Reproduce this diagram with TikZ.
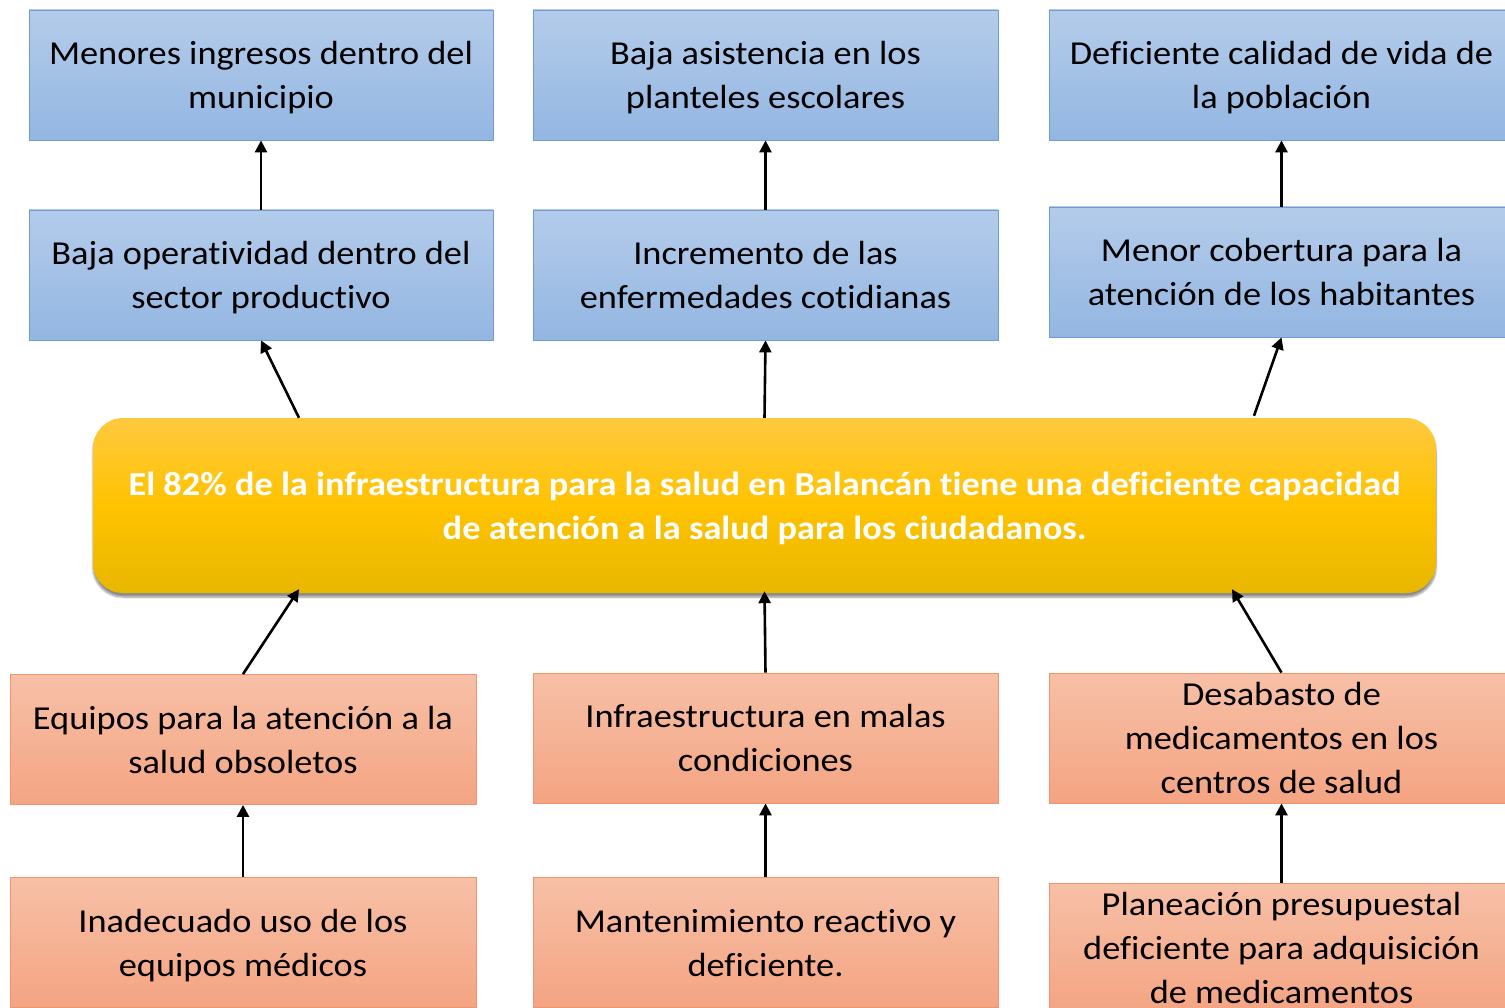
\documentclass[tikz,border=0pt]{standalone}
\usepackage{fontspec}
\setmainfont{Carlito}[FakeStretch=1.085, Ligatures=NoCommon]
\usetikzlibrary{arrows.meta,shadows.blur,calc}
\definecolor{bluetop}{HTML}{B4CCEA}
\definecolor{bluebot}{HTML}{93B6E2}
\definecolor{blueline}{HTML}{6E9BD2}
\definecolor{saltop}{HTML}{F7C0A7}
\definecolor{salbot}{HTML}{F4A482}
\definecolor{salline}{HTML}{EE9570}
\definecolor{yeltop}{HTML}{FFC93F}
\definecolor{yelmid}{HTML}{FFC300}
\definecolor{yelbot}{HTML}{E8B700}
\tikzset{
  effbox/.style={draw=blueline, line width=0.8pt, top color=bluetop, bottom color=bluebot,
    minimum width=464pt, minimum height=130pt, align=center, inner sep=0pt,
    font=\fontsize{33.5}{44}\selectfont, text depth=0pt},
  causebox/.style={draw=salline, line width=0.8pt, top color=saltop, bottom color=salbot,
    minimum width=466pt, minimum height=130pt, align=center, inner sep=0pt,
    font=\fontsize{33.5}{44}\selectfont, text depth=0pt},
  corebox/.style={rounded corners=30pt, top color=yeltop, bottom color=yelbot, middle color=yelmid,
    minimum width=1343pt, minimum height=175pt, align=center, inner sep=0pt, text=white,
    font=\fontsize{33.5}{44}\selectfont\bfseries, text depth=0pt,
    blur shadow={shadow xshift=0pt, shadow yshift=-4pt, shadow blur steps=8, shadow blur extra rounding=4pt, shadow opacity=45}},
  arr/.style={line width=2.6pt, -{Triangle[length=12pt, width=12pt]}}
}
\begin{document}
\begin{tikzpicture}[x=1pt,y=-1pt]
\useasboundingbox (0,0) rectangle (1505,1008);
\begin{scope}
\clip (0,0) rectangle (1505,1008);
% effects top
\node[effbox] (b1) at (261,75) {Menores ingresos dentro del\\municipio};
\node[effbox, minimum width=465pt] (b2) at (765.5,75) {Baja asistencia en los\\planteles escolares};
\node[effbox, minimum width=465pt] (b3) at (1281.5,75) {Deficiente calidad de vida de\\la población};
\node[effbox] (b4) at (261,275) {Baja operatividad dentro del\\sector productivo};
\node[effbox, minimum width=465pt] (b5) at (765.5,275) {Incremento de las\\enfermedades cotidianas};
\node[effbox, minimum width=465pt] (b6) at (1281.5,272) {Menor cobertura para la\\atención de los habitantes};
% core
\node[corebox] (c) at (764.5,505.5) {El 82\% de la infraestructura para la salud en Balancán tiene una deficiente capacidad\\de atención a la salud para los ciudadanos.};
% causes
\node[causebox] (b7) at (243,739.5) {Equipos para la atención a la\\salud obsoletos};
\node[causebox, minimum width=465pt] (b8) at (765.5,738) {Infraestructura en malas\\condiciones};
\node[causebox, minimum width=465pt] (b9) at (1281.5,738) {Desabasto de\\medicamentos en los\\centros de salud};
\node[causebox] (b10) at (243,942.5) {Inadecuado uso de los\\equipos médicos};
\node[causebox, minimum width=465pt] (b11) at (765.5,942.5) {Mantenimiento reactivo y\\deficiente.};
\node[causebox, minimum width=465pt] (b12) at (1281.5,948) {Planeación presupuestal\\deficiente para adquisición\\de medicamentos};
\end{scope}
% arrows
\draw[arr] (b4.north) -- (b1.south);
\draw[arr] (b5.north) -- (b2.south);
\draw[arr] (b6.north) -- (b3.south);
\draw[arr] ([xshift=-465.5pt]c.north) -- (b4.south);
\draw[arr] (c.north) -- (b5.south);
\draw[arr] ([xshift=489.5pt, yshift=2pt]c.north) -- (b6.south);
\draw[arr] (b7.north) -- ([xshift=-465.5pt, yshift=4pt]c.south);
\draw[arr] (b8.north) -- ([yshift=2pt]c.south);
\draw[arr] (b9.north) -- ([xshift=467.5pt, yshift=4pt]c.south);
\draw[arr] (b10.north) -- (b7.south);
\draw[arr] (b11.north) -- (b8.south);
\draw[arr] (b12.north) -- (b9.south);
\end{tikzpicture}
\end{document}
